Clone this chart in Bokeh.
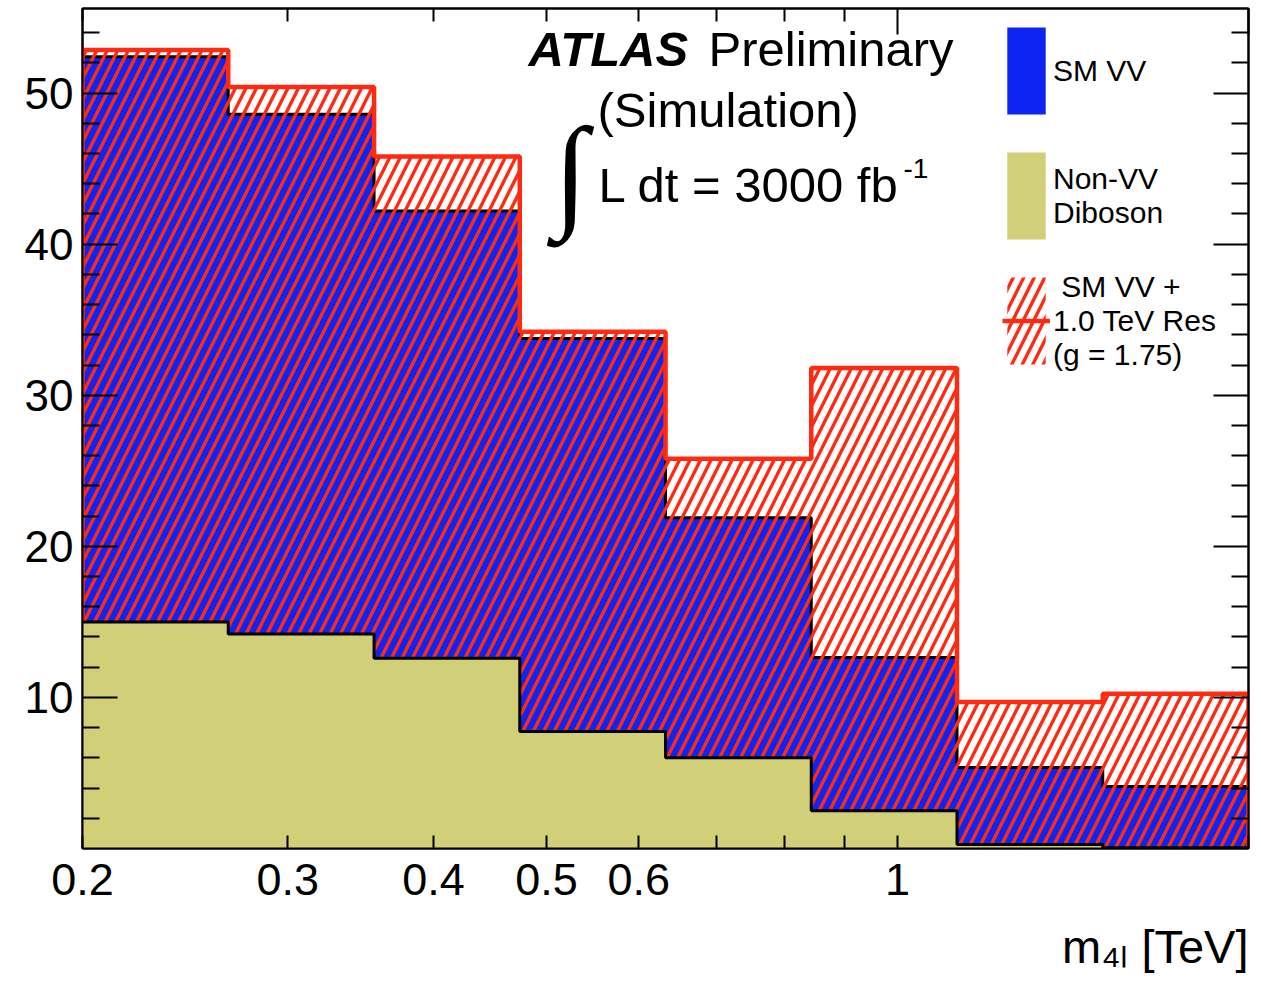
import numpy as np
from bokeh.plotting import figure
from bokeh.models import (FixedTicker, LinearAxis, LogAxis, Label, Legend,
                          LegendItem, Range1d, CustomJSTickFormatter, Title)
from bokeh.embed import file_html
from bokeh.resources import INLINE

# ---------------- data ----------------
bin_edges = [0.2, 0.2667, 0.3557, 0.4743, 0.6325, 0.8434, 1.1247, 1.4998, 2.0]
non_vv_diboson = [15.0, 14.2, 12.6, 7.75, 6.0, 2.5, 0.26, 0.05]
sm_vv = [37.4, 34.4, 29.6, 26.0, 15.9, 10.15, 5.1, 4.05]
sm_vv_plus_res = [52.85, 50.4, 45.8, 34.2, 25.8, 31.8, 9.7, 10.25]

y_major_ticks = [10, 20, 30, 40, 50]
y_minor_ticks = [v for v in range(2, 56, 2) if v % 10]
x_tick_values = [0.2, 0.3, 0.4, 0.5, 0.6, 1.0]
x_tick_labels = ["0.2", "0.3", "0.4", "0.5", "0.6", "1"]
x_minor_ticks = [0.7, 0.8, 0.9, 2.0]

BLUE = "#0d24f2"
OLIVE = "#d1cf78"
RED = "#ff2a12"
FONT = "Liberation Sans"

edges = np.array(bin_edges)
olive_top = np.array(non_vv_diboson)
blue_top = olive_top + np.array(sm_vv)
red_top = np.array(sm_vv_plus_res)

def ext(v):
    return np.append(v, v[-1])

p = figure(width=1261, height=993, x_axis_type="log",
           x_range=Range1d(0.2, 2.0), y_range=Range1d(0, 55.6),
           output_backend="svg", toolbar_location=None,
           min_border_left=82, min_border_right=13,
           min_border_top=8, min_border_bottom=145)
p.xgrid.visible = False
p.ygrid.visible = False
p.outline_line_color = "black"
p.outline_line_width = 2
p.background_fill_color = "white"
p.border_fill_color = "white"

# blue SM VV (stacked on top of non-VV)
blue_r = p.varea_step(x=edges, y1=0, y2=ext(blue_top), step_mode="after",
                      fill_color=BLUE)
p.line(np.repeat(edges, 2)[1:-1], np.repeat(blue_top, 2),
       line_color="black", line_width=3)

# red hatched SM VV + resonance
red_hatch_r = p.varea_step(x=edges, y1=0, y2=ext(red_top), step_mode="after",
                           fill_color=None, fill_alpha=0,
                           hatch_pattern="/", hatch_color=RED,
                           hatch_scale=21, hatch_weight=3.4)
red_line_r = p.line(np.repeat(edges, 2),
                    np.concatenate([[0], np.repeat(red_top, 2), [0]]),
                    line_color=RED, line_width=4.5)

# olive non-VV diboson
olive_r = p.varea_step(x=edges, y1=0, y2=ext(olive_top), step_mode="after",
                       fill_color=OLIVE)
p.line(np.repeat(edges, 2)[1:-1], np.repeat(olive_top, 2),
       line_color="black", line_width=3)

# ---------------- axes ----------------
def style_axis(ax):
    ax.axis_line_color = "black"
    ax.axis_line_width = 2
    ax.major_tick_line_color = "black"
    ax.minor_tick_line_color = "black"
    ax.major_tick_line_width = 2
    ax.minor_tick_line_width = 2
    ax.major_tick_out = 0
    ax.minor_tick_out = 0
    ax.major_label_text_font = FONT
    ax.major_label_text_color = "black"

def hide_labels(ax):
    ax.major_label_text_color = None
    ax.major_label_text_font_size = "1px"
    ax.major_label_standoff = 0

yax = p.yaxis[0]
style_axis(yax)
yax.ticker = FixedTicker(ticks=y_major_ticks, minor_ticks=y_minor_ticks)
yax.major_tick_in = 35
yax.minor_tick_in = 17
yax.major_label_text_font_size = "44px"
yax.major_label_standoff = 9

rax = LinearAxis(ticker=FixedTicker(ticks=y_major_ticks, minor_ticks=y_minor_ticks))
style_axis(rax)
rax.major_tick_in = 35
rax.minor_tick_in = 17
hide_labels(rax)
p.add_layout(rax, "right")

xax = p.xaxis[0]
style_axis(xax)
xax.ticker = FixedTicker(ticks=x_tick_values, minor_ticks=x_minor_ticks)
xax.formatter = CustomJSTickFormatter(
    args=dict(vals=x_tick_values, labs=x_tick_labels),
    code="const i = vals.findIndex(v => Math.abs(v - tick) < 1e-6); return i >= 0 ? labs[i] : '';")
xax.major_tick_in = 13
xax.minor_tick_in = 13
xax.major_label_text_font_size = "45px"
xax.major_label_standoff = 15

tax = LogAxis(ticker=FixedTicker(ticks=[1.0, 2.0],
                                 minor_ticks=[0.2, 0.3, 0.4, 0.5, 0.6, 0.7, 0.8, 0.9]))
style_axis(tax)
tax.major_tick_in = 26
tax.minor_tick_in = 13
hide_labels(tax)
p.add_layout(tax, "above")

# x-axis title, right aligned under the axis
xtitle = Title(text="m\u2084\u2097 [TeV]", align="right", text_font=FONT,
               text_font_size="47px", text_font_style="normal",
               text_color="black", standoff=41)
p.add_layout(xtitle, "below")

# ---------------- texts ----------------
def lab(x, y, text, size, style="normal", font=FONT, align="left", baseline="alphabetic"):
    p.add_layout(Label(x=x, y=y, x_units="screen", y_units="screen", text=text,
                       text_font=font, text_font_size=size, text_font_style=style,
                       text_color="black", text_align=align, text_baseline=baseline))

lab(446, 800, "ATLAS", "49px", style="bold italic")
lab(626, 800, "Preliminary", "49px")
lab(515, 739, "(Simulation)", "49px")
lab(516, 664, "L dt = 3000 fb", "49px")
lab(821, 680, "-1", "28px")
lab(488, 677, "\u222b", "125px", font="Liberation Serif", align="center", baseline="middle")

# ---------------- legend ----------------
legend = Legend(items=[
    LegendItem(label="SM VV", renderers=[blue_r]),
    LegendItem(label="Non-VV\nDiboson", renderers=[olive_r]),
    LegendItem(label=" SM VV +\n1.0 TeV Res\n(g = 1.75)", renderers=[red_hatch_r, red_line_r]),
], location=(920, 473))
legend.glyph_width = 48
legend.glyph_height = 109
legend.spacing = 16
legend.padding = 0
legend.margin = 0
legend.label_standoff = 3
legend.border_line_color = None
legend.background_fill_alpha = 0
legend.label_text_font = FONT
legend.label_text_font_size = "30px"
legend.label_text_line_height = 1.15
legend.label_text_color = "black"
p.add_layout(legend, "center")

open("out.html", "w").write(file_html(p, INLINE))
